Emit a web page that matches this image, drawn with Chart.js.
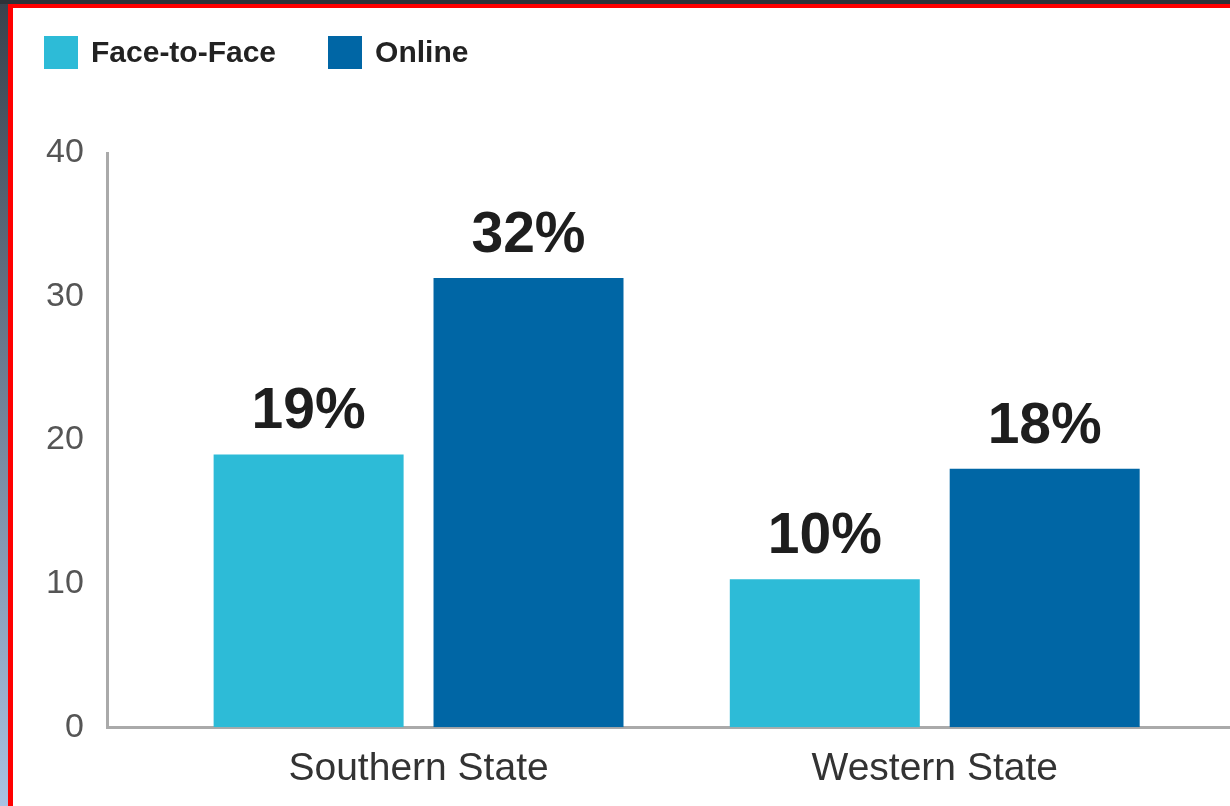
<!DOCTYPE html>
<html>
<head>
<meta charset="utf-8">
<script src="https://cdn.jsdelivr.net/npm/chart.js@4/dist/chart.umd.min.js"></script>
<style>
  html, body { margin: 0; padding: 0; }
  body {
    width: 1230px; height: 806px; overflow: hidden; position: relative;
    background: #2d3238;
  }
  /* left strip of the screenshot frame */
  #strip {
    position: absolute; left: 0; top: 4px; width: 8px; height: 802px;
    background: linear-gradient(#39424d, #a9c2e2);
  }
  #frame {
    position: absolute; left: 8px; top: 4px; right: 0; bottom: 0;
    border-top: 4px solid #ff0000; border-left: 5px solid #ff0000;
    background: #fff;
  }
  #wrap { position: absolute; left: 0; top: 0; width: 1217px; height: 798px; }
  #legend {
    position: absolute; left: 31px; top: 27px; display: flex;
    font: bold 30px "Liberation Sans", Arial, sans-serif; color: #222;
  }
  .item { display: flex; align-items: center; margin-right: 52px; }
  .box { width: 34px; height: 33px; margin-right: 13px; }
</style>
</head>
<body>
<div id="strip"></div>
<div id="frame">
  <div id="wrap"><canvas id="myBarChart" width="1217" height="798"></canvas></div>
  <div id="legend"></div>
</div>
<script>
// chart data
var categories = ['Southern State', 'Western State'];
var faceValues = [19, 10.3];
var onlineValues = [31.3, 18];
var faceLabels = ['19%', '10%'];
var onlineLabels = ['32%', '18%'];
var yTicks = [0, 10, 20, 30, 40];

document.addEventListener("DOMContentLoaded", function () {
    var ctx = document.getElementById('myBarChart').getContext('2d');

    function toPoints(values) {
        return values.map(function (v, i) { return { x: i, y: v }; });
    }

    var data = {
        datasets: [{
            label: 'Face-to-Face',
            data: toPoints(faceValues),
            valueLabels: faceLabels,
            backgroundColor: '#2dbbd7'
        }, {
            label: 'Online',
            data: toPoints(onlineValues),
            valueLabels: onlineLabels,
            backgroundColor: '#0066a5'
        }]
    };

    // percent labels above each bar
    var valueLabelPlugin = {
        id: 'valueLabels',
        afterDatasetsDraw: function (chart) {
            var c = chart.ctx;
            c.save();
            c.font = 'bold 57px "Liberation Sans", Arial, sans-serif';
            c.fillStyle = '#1e1e1e';
            c.textAlign = 'center';
            c.textBaseline = 'alphabetic';
            chart.data.datasets.forEach(function (ds, di) {
                chart.getDatasetMeta(di).data.forEach(function (bar, i) {
                    c.fillText(ds.valueLabels[i], bar.x, bar.y - 26);
                });
            });
            c.restore();
        }
    };

    // html legend built from the datasets
    var legendPlugin = {
        id: 'htmlLegend',
        afterUpdate: function (chart) {
            var el = document.getElementById('legend');
            el.innerHTML = '';
            chart.data.datasets.forEach(function (ds) {
                var item = document.createElement('div');
                item.className = 'item';
                var box = document.createElement('span');
                box.className = 'box';
                box.style.background = ds.backgroundColor;
                item.appendChild(box);
                item.appendChild(document.createTextNode(ds.label));
                el.appendChild(item);
            });
        }
    };

    var options = {
        responsive: false,
        maintainAspectRatio: false,
        animation: false,
        categoryPercentage: 0.852,
        barPercentage: 0.864,
        layout: { padding: { left: 9, top: 145, right: 0, bottom: -6 } },
        plugins: { legend: { display: false }, tooltip: { enabled: false } },
        scales: {
            x: {
                type: 'linear',
                offset: false,
                min: -0.602,
                max: 1.572,
                grid: { display: false, drawTicks: false, offset: false },
                border: { display: true, color: '#aaaaaa', width: 3 },
                afterBuildTicks: function (axis) {
                    axis.ticks = categories.map(function (c, i) { return { value: i }; });
                },
                ticks: {
                    padding: 19,
                    color: '#333',
                    maxRotation: 0,
                    font: { size: 39, family: '"Liberation Sans", Arial, sans-serif' },
                    callback: function (v) { return categories[v]; }
                }
            },
            y: {
                min: yTicks[0],
                max: yTicks[yTicks.length - 1],
                grid: { display: false, drawTicks: false },
                border: { display: true, color: '#aaaaaa', width: 3 },
                afterBuildTicks: function (axis) {
                    axis.ticks = yTicks.map(function (v) { return { value: v }; });
                },
                ticks: {
                    padding: 24,
                    color: '#555',
                    font: { size: 34, family: '"Liberation Sans", Arial, sans-serif' }
                }
            }
        }
    };

    var myBarChart = new Chart(ctx, {
        type: 'bar',
        data: data,
        options: options,
        plugins: [valueLabelPlugin, legendPlugin]
    });
});
</script>
</body>
</html>
